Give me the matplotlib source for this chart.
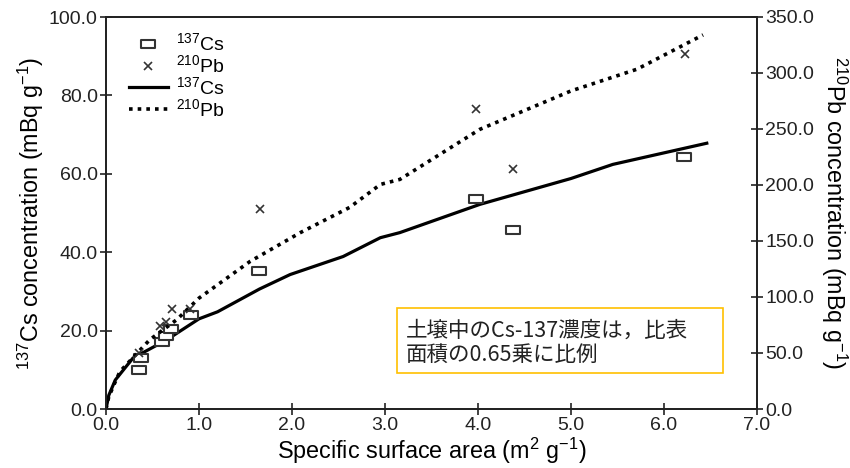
import numpy as np
import matplotlib
matplotlib.use("Agg")
import matplotlib.pyplot as plt
from matplotlib.path import Path
from matplotlib.patches import Rectangle

plt.rcParams['font.family'] = ['Liberation Sans', 'DejaVu Sans']
plt.rcParams['mathtext.fontset'] = 'custom'
plt.rcParams['mathtext.rm'] = 'Liberation Sans'
plt.rcParams['mathtext.it'] = 'Liberation Sans'

# measured points
cs_x = [0.36, 0.38, 0.60, 0.65, 0.70, 0.91, 1.65, 3.98, 4.38, 6.22]
cs_y = [10.0, 13.0, 17.0, 18.5, 20.5, 24.0, 35.1, 53.5, 45.6, 64.2]
pb_x = [0.35, 0.58, 0.65, 0.71, 0.90, 1.66, 3.98, 4.38, 6.23]
pb_y = [50.0, 73.7, 78.0, 89.2, 89.0, 178.7, 268.0, 214.5, 317.0]

# fitted curves (Cs on left axis, Pb on right axis)
cs_fit_x = [0, 0.03, 0.10, 0.29, 0.65, 1.00, 1.20, 1.65, 1.98, 2.55, 2.95, 3.16, 4.02, 5.00, 5.45, 6.46]
cs_fit_y = [0, 3.5, 7.4, 13.0, 17.6, 23.0, 24.8, 30.6, 34.3, 38.9, 43.7, 45.0, 52.2, 58.8, 62.4, 67.8]
pb_fit_x = [0, 0.03, 0.10, 0.15, 0.47, 0.76, 1.00, 1.55, 2.09, 2.62, 2.95, 3.16, 4.02, 5.00, 5.71, 6.42]
pb_fit_y = [0, 11.0, 24.4, 33.4, 61.8, 79.7, 99.0, 131.8, 157.5, 180.0, 200.5, 205.0, 249.7, 284.0, 303.4, 334.0]

xticks = np.arange(0, 7.01, 1.0)
left_ticks = np.arange(0, 100.01, 20)
right_ticks = np.arange(0, 350.01, 50)

# slightly wide open box marker
box = Path([(-1.0, -0.68), (1.0, -0.68), (1.0, 0.68), (-1.0, 0.68), (-1.0, -0.68)],
           [Path.MOVETO, Path.LINETO, Path.LINETO, Path.LINETO, Path.CLOSEPOLY])

fig = plt.figure(figsize=(8.5, 4.68), dpi=100)
ax = fig.add_axes([106 / 850, 1 - 409 / 468, 651 / 850, 392 / 468])
ax2 = ax.twinx()

ax.plot(cs_x, cs_y, linestyle='none', marker=box, markersize=9.5,
        markerfacecolor='white', markeredgecolor='#333333', markeredgewidth=1.5,
        label=r'$^{137}$Cs', zorder=3)
ax.plot([], [], linestyle='none', marker='x', markersize=6, color='#333333',
        markeredgewidth=1.2, label=r'$^{210}$Pb')
ax.plot(cs_fit_x, cs_fit_y, color='black', lw=2.3, label=r'$^{137}$Cs')
ax.plot([], [], color='black', lw=2.6, linestyle=(0, (1, 1.4)), label=r'$^{210}$Pb')

ax2.plot(pb_x, pb_y, linestyle='none', marker='x', markersize=6, color='#333333',
         markeredgewidth=1.2, zorder=3)
ax2.plot(pb_fit_x, pb_fit_y, color='black', lw=2.6, linestyle=(0, (1, 1.4)))

ax.set_xlim(0, 7)
ax.set_ylim(0, 100)
ax2.set_ylim(0, 350)
ax.set_xticks(xticks)
ax.set_xticklabels([f'{v:.1f}' for v in xticks])
ax.set_yticks(left_ticks)
ax.set_yticklabels([f'{v:.1f}' for v in left_ticks])
ax2.set_yticks(right_ticks)
ax2.set_yticklabels([f'{v:.1f}' for v in right_ticks])

for a in (ax, ax2):
    for s in a.spines.values():
        s.set_linewidth(1.3)
        s.set_color('#222222')
    a.tick_params(direction='inout', length=8, width=1.2, labelsize=14, colors='#222222', pad=2)

ax.set_xlabel(r'Specific surface area (m$^{2}$ g$^{-1}$)', fontsize=16.8, labelpad=1)
ax.set_ylabel(r'$^{137}$Cs concentration (mBq g$^{-1}$)', fontsize=16.8, labelpad=2)
ax2.set_ylabel(r'$^{210}$Pb concentration (mBq g$^{-1}$)', fontsize=16.8,
               rotation=270, labelpad=25)

ax.legend(loc='upper left', bbox_to_anchor=(0.005, 1.01), frameon=False, fontsize=14,
          handlelength=2.0, handletextpad=0.45, labelspacing=0.0, borderaxespad=0.6)

# note box
fig.patches.append(Rectangle((397 / 850, 1 - 373 / 468), 326 / 850, 65 / 468,
                             transform=fig.transFigure, facecolor='white',
                             edgecolor='#FFC000', lw=1.2, zorder=5))
fig.text(406 / 850, 1 - 343 / 468, '土壌中のCs-137濃度は，比表\n面積の0.65乗に比例',
         family=['Noto Sans CJK JP', 'DejaVu Sans'], fontsize=15.5, va='center',
         ha='left', linespacing=1.1, color='#222222', zorder=6)

fig.savefig('out.png', dpi=100)
